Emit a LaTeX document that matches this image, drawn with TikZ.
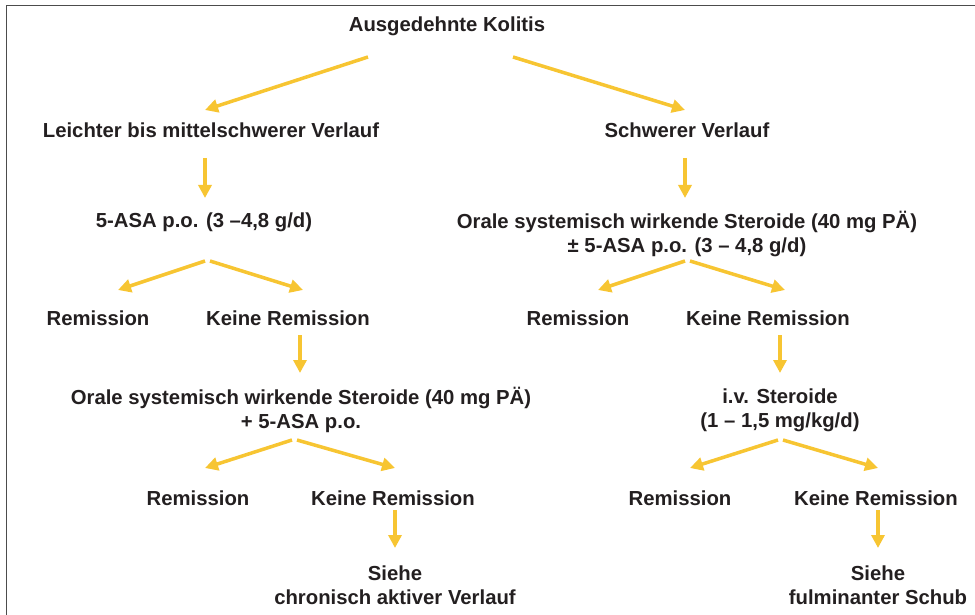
\documentclass[tikz,border=0pt]{standalone}
\usepackage{fontspec}
\setmainfont{Liberation Sans}
\usetikzlibrary{arrows.meta}
\definecolor{pfeilgelb}{HTML}{F7C532}
\definecolor{textgrau}{HTML}{231F20}
\tikzset{
  stufe/.style={font=\fontsize{20.3}{24}\selectfont\bfseries, text=textgrau, inner sep=0pt, align=center},
  pfeil/.style={draw=pfeilgelb, line width=3.5pt, -{Triangle[length=13pt,width=13pt]}}
}
\begin{document}
\begin{tikzpicture}[x=1pt,y=-1pt]
\useasboundingbox (0,0) rectangle (975,615);
%\draw [help lines] (0,0) grid (975,615);
\draw[gray!60!black, line width=1.6pt] (6.5,615) -- (6.5,5.5) -- (975,5.5);
%1
\node[stufe] (kolitis) at (447,26) {Ausgedehnte Kolitis};
\node[stufe] (leicht) at (211,130) {Leichter bis mittelschwerer Verlauf};
\node[stufe] (schwer) at (687,130) {Schwerer Verlauf};
\draw[pfeil] ([shift={(-79,31)}]kolitis.center) -- ([shift={(-6,-20)}]leicht.center);
\draw[pfeil] ([shift={(66,31)}]kolitis.center) -- ([shift={(-2,-20)}]schwer.center);
%2
\node[stufe] (asa) at (204,222) {5-ASA p.o. (3 --4,8 g/d)};
\node[stufe] (steroid) at (687,234) {Orale systemisch wirkende Steroide (40 mg PÄ)\\ ± 5-ASA p.o. (3 -- 4,8 g/d)};
\draw[pfeil] ([shift={(-6,28)}]leicht.center) -- ([shift={(1,-24)}]asa.center);
\draw[pfeil] ([shift={(-2,28)}]schwer.center) -- ([shift={(-2,-36)}]steroid.center);
%3
\node[stufe] (remA) at (98,318) {Remission};
\node[stufe] (keineA) at (288,318) {Keine Remission};
\node[stufe] (remB) at (578,318) {Remission};
\node[stufe] (keineB) at (768,318) {Keine Remission};
\draw[pfeil] ([shift={(1,39)}]asa.center) -- ([shift={(20,-28)}]remA.center);
\draw[pfeil] ([shift={(6,39)}]asa.center) -- ([shift={(15,-28)}]keineA.center);
\draw[pfeil] ([shift={(-2,27)}]steroid.center) -- ([shift={(20,-28)}]remB.center);
\draw[pfeil] ([shift={(3,27)}]steroid.center) -- ([shift={(17,-28)}]keineB.center);
%4
\node[stufe] (oral) at (301,410) {Orale systemisch wirkende Steroide (40 mg PÄ)\\ + 5-ASA p.o.};
\node[stufe] (iv) at (780,410) {i.v. Steroide\\ (1 -- 1,5 mg/kg/d)};
\draw[pfeil] ([shift={(12,17)}]keineA.center) -- ([shift={(-1,-37)}]oral.center);
\draw[pfeil] ([shift={(12,17)}]keineB.center) -- ([shift={(0,-37)}]iv.center);
%5
\node[stufe] (remC) at (198,498) {Remission};
\node[stufe] (keineC) at (393,498) {Keine Remission};
\node[stufe] (remD) at (680,498) {Remission};
\node[stufe] (keineD) at (876,498) {Keine Remission};
\draw[pfeil] ([shift={(-9,30)}]oral.center) -- ([shift={(7,-30)}]remC.center);
\draw[pfeil] ([shift={(-4,30)}]oral.center) -- ([shift={(2,-30)}]keineC.center);
\draw[pfeil] ([shift={(-2,30)}]iv.center) -- ([shift={(10,-30)}]remD.center);
\draw[pfeil] ([shift={(3,30)}]iv.center) -- ([shift={(2,-30)}]keineD.center);
%6
\node[stufe] (chronisch) at (395,585) {Siehe\\ chronisch aktiver Verlauf};
\node[stufe] (fulminant) at (878,585) {Siehe\\ fulminanter Schub};
\draw[pfeil] ([shift={(2,12)}]keineC.center) -- ([shift={(0,-37)}]chronisch.center);
\draw[pfeil] ([shift={(2,12)}]keineD.center) -- ([shift={(0,-37)}]fulminant.center);
\end{tikzpicture}
\end{document}
